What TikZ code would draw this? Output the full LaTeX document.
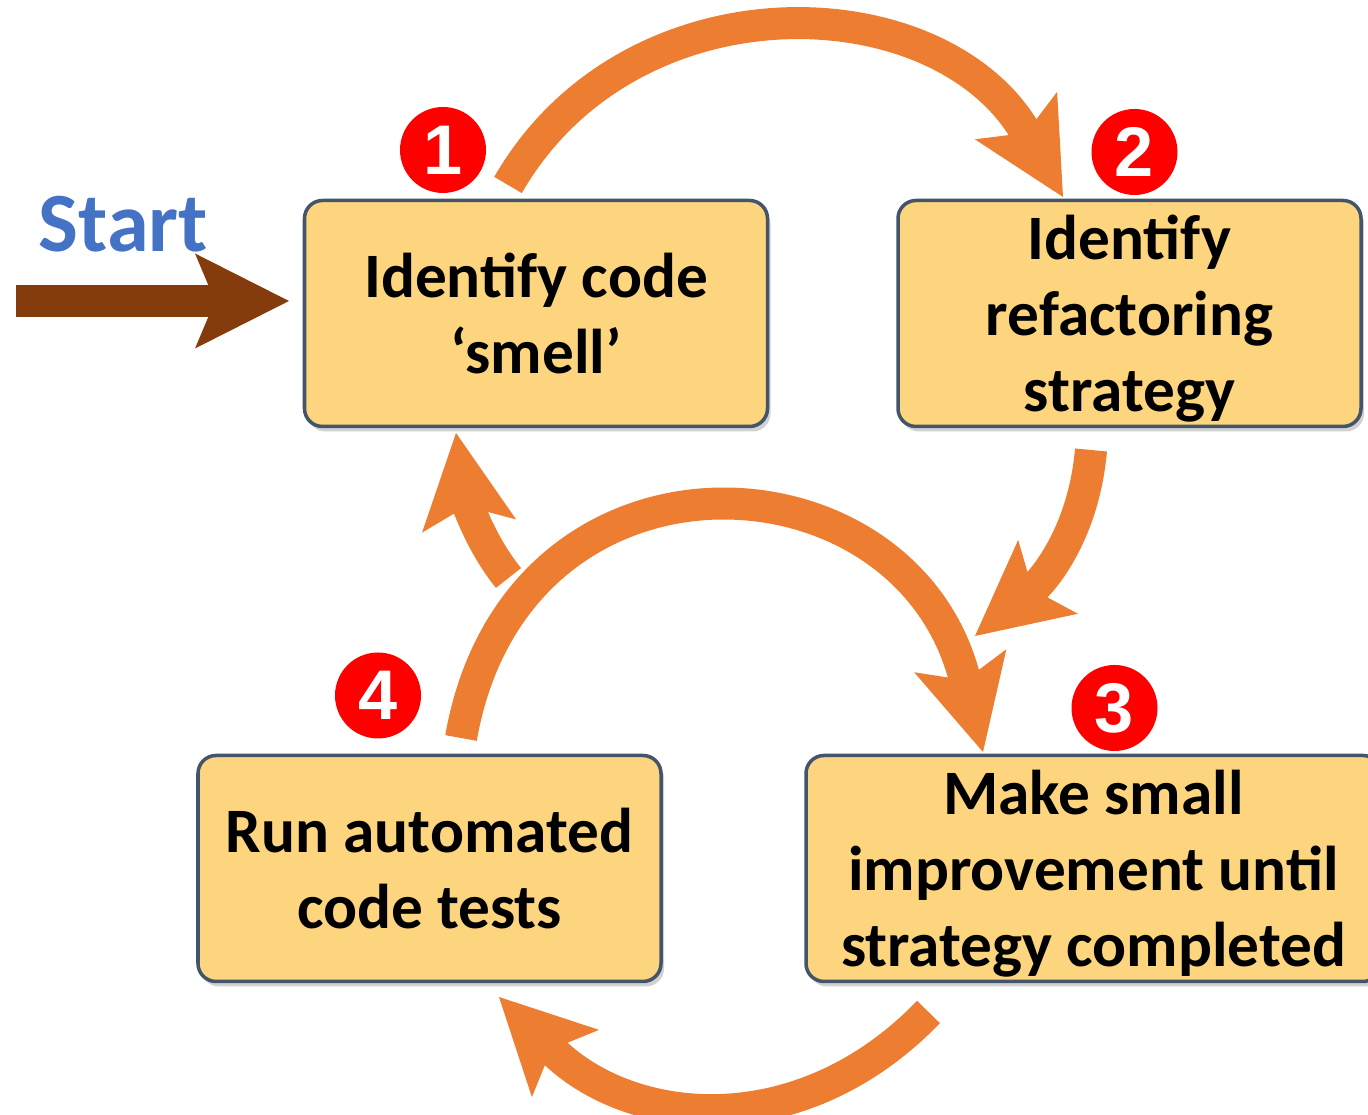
\documentclass[tikz,border=0pt]{standalone}
\usepackage{fontspec}
\setmainfont{Carlito}
\newfontfamily\ziffern{Liberation Sans}
\usetikzlibrary{arrows.meta,shadows}
\definecolor{kastenfarbe}{HTML}{FCD57E}
\definecolor{randfarbe}{HTML}{44546A}
\definecolor{pfeilorange}{HTML}{ED7D31}
\definecolor{braun}{HTML}{843C0C}
\definecolor{startblau}{HTML}{4472C4}
\tikzstyle{schritt}=[draw=randfarbe, line width=1pt, fill=kastenfarbe, rounded corners=0.18cm,
  minimum width=4.63cm, minimum height=2.26cm, align=center, text depth=0pt,
  font=\fontsize{18}{21.7}\selectfont\bfseries,
  drop shadow={shadow xshift=0.03cm, shadow yshift=-0.05cm, fill=black, opacity=0.18}]
\tikzstyle{nummer}=[circle, fill=red, text=white, minimum size=0.86cm, inner sep=0pt,
  font=\ziffern\fontsize{20}{20}\selectfont\bfseries]
\tikzstyle{pfeil}=[line width=0.32cm, -{Stealth[length=0.94cm, width=0.95cm, inset=0.2cm, line width=0pt]}]

\begin{document}
\begin{tikzpicture}
			\useasboundingbox (0,0) rectangle (13.68,11.15);
			% Kaesten zeichnen
			\node[schritt] (smell) at (5.36,8.015) {Identify code\\‘smell’};
			\node[schritt] (strategie) at (11.295,8.015) {Identify\\refactoring\\strategy};
			\node[schritt, minimum width=5.75cm] (verbessern) at (10.935,2.465) {Make small\\improvement until\\strategy completed};
			\node[schritt] (tests) at (4.295,2.465) {Run automated\\code tests};
			% Nummern zeichnen
			\node[nummer] (n1) at (4.43,9.65) {1};
			\node[nummer] (n2) at (11.345,9.63) {2};
			\node[nummer] (n3) at (11.145,4.07) {3};
			\node[nummer] (n4) at (3.78,4.195) {4};
			% Start zeichnen
			\node[anchor=base west, inner sep=0pt, text=startblau, font=\fontsize{24}{24}\selectfont\bfseries] (start) at (0.38,8.63) {Start};
			\coordinate (s0) at (0.16,8.14);
			\coordinate (s1) at (2.89,8.14);
			\draw[pfeil, braun] (s0) -- (s1);
			% Kreislauf zeichnen
			\coordinate (a1) at (5.08,9.30);
			\coordinate (b1) at (10.63,9.18);
			\coordinate (a2) at (10.91,6.65);
			\coordinate (b2) at (9.75,4.79);
			\coordinate (a3) at (4.61,3.77);
			\coordinate (b3) at (9.83,3.63);
			\coordinate (a4) at (9.285,1.03);
			\coordinate (b4) at (4.99,1.18);
			\coordinate (a5) at (5.085,5.37);
			\coordinate (b5) at (4.56,6.82);
			\draw[pfeil, pfeilorange] (a1) to[out=60, in=120, looseness=1.13] (b1);
			\draw[pfeil, pfeilorange] (a2) to[out=265, in=39] (b2);
			\draw[pfeil, pfeilorange] (a3) to[out=80, in=104, looseness=1.55] (b3);
			\draw[pfeil, pfeilorange] (a4) to[out=226, in=315, looseness=1.1] (b4);
			\draw[pfeil, pfeilorange] (a5) to[out=129, in=278, looseness=0.9] (b5);
		\end{tikzpicture}
\end{document}
